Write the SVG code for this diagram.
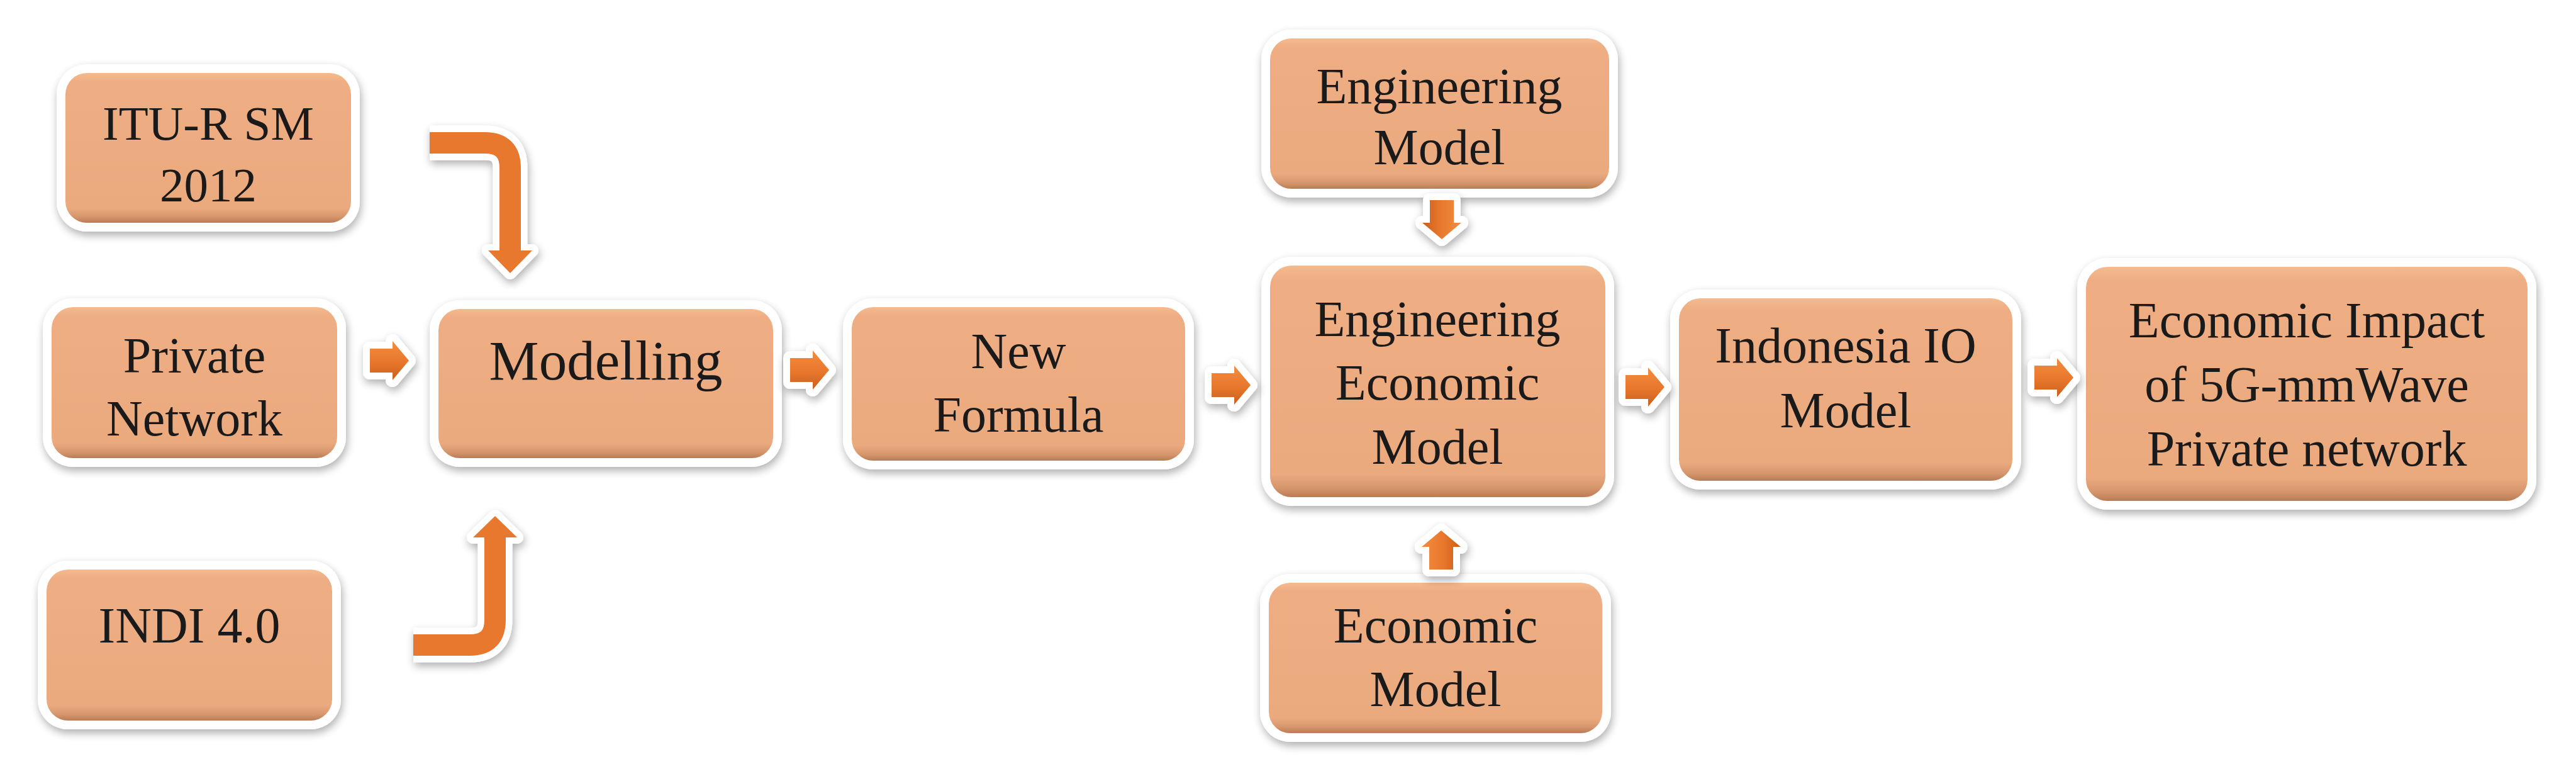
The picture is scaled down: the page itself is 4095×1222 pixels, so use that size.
<svg xmlns="http://www.w3.org/2000/svg" xmlns:xlink="http://www.w3.org/1999/xlink" width="4095" height="1222" viewBox="0 0 4095 1222">
<defs>
<filter id="sh" x="-20%" y="-20%" width="140%" height="140%">
<feGaussianBlur in="SourceAlpha" stdDeviation="7"/>
<feOffset dx="2" dy="6" result="b"/>
<feComponentTransfer><feFuncA type="linear" slope="0.32"/></feComponentTransfer>
<feMerge><feMergeNode/><feMergeNode in="SourceGraphic"/></feMerge>
</filter>
<linearGradient id="bg" x1="0" y1="0" x2="0" y2="1">
<stop offset="0" stop-color="#F5BA8F"/>
<stop offset="0.06" stop-color="#EEAD82"/>
<stop offset="0.9" stop-color="#EBA97E"/>
<stop offset="0.96" stop-color="#D6966C"/>
<stop offset="1" stop-color="#B97C55"/>
</linearGradient>
<linearGradient id="ag" x1="0" y1="0" x2="0" y2="1">
<stop offset="0" stop-color="#F28D3F"/>
<stop offset="0.55" stop-color="#E8772C"/>
<stop offset="1" stop-color="#C95E1C"/>
</linearGradient>
<path id="arr" d="M0,-19 H36 V-31 L62,0 L36,31 V19 H0 Z"/>
<style>
.rim{fill:#FFFFFF;filter:url(#sh)}
.box{fill:url(#bg)}
.t{font-family:"Liberation Serif","Times New Roman",serif;font-size:80px;fill:#1A1A1A;text-anchor:middle}
.aw{fill:#FFFFFF;stroke:#FFFFFF;stroke-width:22;stroke-linejoin:round}
.af{fill:url(#ag)}
.bw{fill:none;stroke:#FFFFFF;stroke-width:55}
.bo{fill:none;stroke:#E8782D;stroke-width:34}
.hw{fill:#FFFFFF;stroke:#FFFFFF;stroke-width:20;stroke-linejoin:round}
.ho{fill:#E8782D}
</style>
</defs>
<rect x="0" y="0" width="4095" height="1222" fill="#FFFFFF"/>

<g id="n-itu">
<rect class="rim" x="90" y="102" width="482" height="266" rx="48"/>
<rect class="box" x="104" y="116" width="454" height="238" rx="34"/>
<text class="t" x="331" y="222" style="font-size:77px">ITU-R SM</text>
<text class="t" x="331" y="320" style="font-size:77px">2012</text>
</g>
<g id="n-private">
<rect class="rim" x="68" y="474" width="482" height="268" rx="48"/>
<rect class="box" x="82" y="488" width="454" height="240" rx="34"/>
<text class="t" x="309" y="592">Private</text>
<text class="t" x="309" y="692">Network</text>
</g>
<g id="n-indi">
<rect class="rim" x="60" y="891" width="482" height="268" rx="48"/>
<rect class="box" x="74" y="905" width="454" height="240" rx="34"/>
<text class="t" x="301" y="1021">INDI 4.0</text>
</g>
<g id="n-modelling">
<rect class="rim" x="683" y="477" width="560" height="265" rx="48"/>
<rect class="box" x="697" y="491" width="532" height="237" rx="34"/>
<text class="t" x="963" y="603" style="font-size:89px">Modelling</text>
</g>
<g id="n-formula">
<rect class="rim" x="1340" y="474" width="558" height="272" rx="48"/>
<rect class="box" x="1354" y="488" width="530" height="244" rx="34"/>
<text class="t" x="1619" y="585">New</text>
<text class="t" x="1619" y="686">Formula</text>
</g>
<g id="n-engmodel">
<rect class="rim" x="2005" y="47" width="567" height="267" rx="48"/>
<rect class="box" x="2019" y="61" width="539" height="239" rx="34"/>
<text class="t" x="2288" y="164">Engineering</text>
<text class="t" x="2288" y="261">Model</text>
</g>
<g id="n-engeco">
<rect class="rim" x="2005" y="408" width="561" height="396" rx="48"/>
<rect class="box" x="2019" y="422" width="533" height="368" rx="34"/>
<text class="t" x="2285" y="534">Engineering</text>
<text class="t" x="2285" y="635">Economic</text>
<text class="t" x="2285" y="737">Model</text>
</g>
<g id="n-ecomodel">
<rect class="rim" x="2003" y="912" width="558" height="267" rx="48"/>
<rect class="box" x="2017" y="926" width="530" height="239" rx="34"/>
<text class="t" x="2282" y="1021">Economic</text>
<text class="t" x="2282" y="1122">Model</text>
</g>
<g id="n-io">
<rect class="rim" x="2655" y="460" width="558" height="318" rx="48"/>
<rect class="box" x="2669" y="474" width="530" height="290" rx="34"/>
<text class="t" x="2934" y="576">Indonesia IO</text>
<text class="t" x="2934" y="679">Model</text>
</g>
<g id="n-impact">
<rect class="rim" x="3302" y="410" width="730" height="400" rx="48"/>
<rect class="box" x="3316" y="424" width="702" height="372" rx="34"/>
<text class="t" x="3667" y="536">Economic Impact</text>
<text class="t" x="3667" y="638">of 5G-mmWave</text>
<text class="t" x="3667" y="740">Private network</text>
</g>

<g id="connectors">
<g filter="url(#sh)">
<use xlink:href="#arr" href="#arr" class="aw" transform="translate(588,573)"/>
<use xlink:href="#arr" href="#arr" class="aw" transform="translate(1256,588)"/>
<use xlink:href="#arr" href="#arr" class="aw" transform="translate(1926,612)"/>
<use xlink:href="#arr" href="#arr" class="aw" transform="translate(2584,615)"/>
<use xlink:href="#arr" href="#arr" class="aw" transform="translate(3234,600)"/>
<use xlink:href="#arr" href="#arr" class="aw" transform="translate(2292,318) rotate(90)"/>
<use xlink:href="#arr" href="#arr" class="aw" transform="translate(2291,905) rotate(-90)"/>
<path class="bw" d="M683,227 H771 Q811,227 811,267 V400"/>
<polygon class="hw" points="776,398 846,398 811,434"/>
<path class="bw" d="M657,1025 H747 Q787,1025 787,985 V852"/>
<polygon class="hw" points="752,854 822,854 787,820"/>
</g>
<use xlink:href="#arr" href="#arr" class="af" transform="translate(588,573)"/>
<use xlink:href="#arr" href="#arr" class="af" transform="translate(1256,588)"/>
<use xlink:href="#arr" href="#arr" class="af" transform="translate(1926,612)"/>
<use xlink:href="#arr" href="#arr" class="af" transform="translate(2584,615)"/>
<use xlink:href="#arr" href="#arr" class="af" transform="translate(3234,600)"/>
<use xlink:href="#arr" href="#arr" class="af" transform="translate(2292,318) rotate(90)"/>
<use xlink:href="#arr" href="#arr" class="af" transform="translate(2291,905) rotate(-90)"/>
<path class="bo" d="M683,227 H771 Q811,227 811,267 V400"/>
<polygon class="ho" points="776,398 846,398 811,434"/>
<path class="bo" d="M657,1025 H747 Q787,1025 787,985 V852"/>
<polygon class="ho" points="752,854 822,854 787,820"/>
</g>
</svg>
